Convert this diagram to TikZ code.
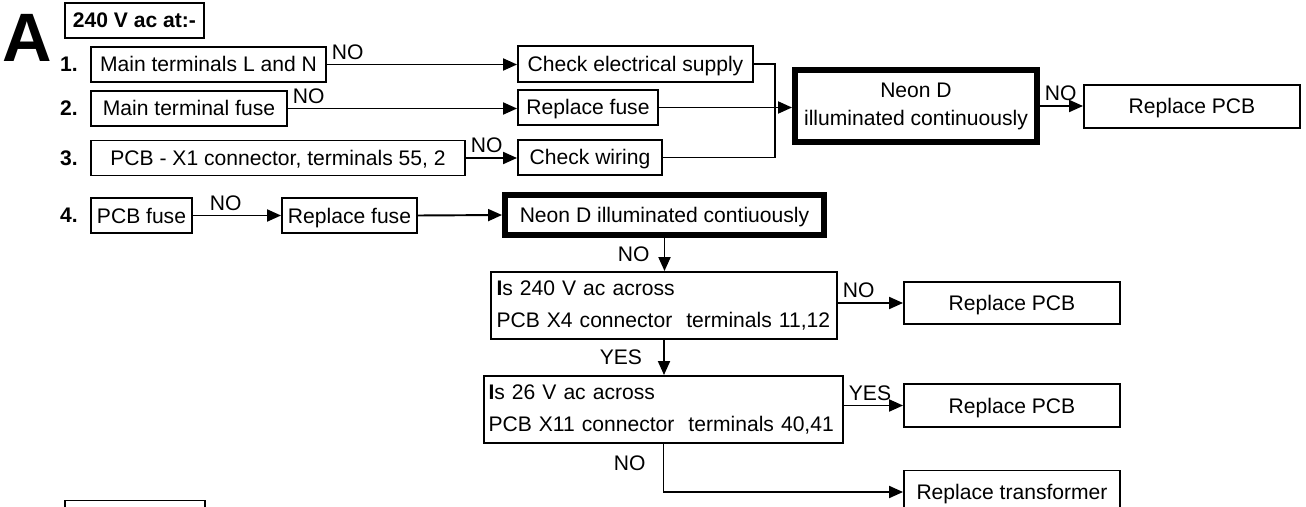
\documentclass[tikz,border=0pt]{standalone}
\usepackage{fontspec}
\setmainfont{Liberation Sans}
\usetikzlibrary{arrows.meta}

\begin{document}
\begin{tikzpicture}[x=0.02cm, y=-0.02cm, line width=1.1pt,
    font=\fontsize{12}{14}\selectfont, >={Triangle[length=0.28cm, width=0.24cm]},
    box/.style={draw, inner sep=0pt, minimum height=0.7cm, text height=0.3cm, text depth=0cm},
    neon/.style={draw, line width=0.12cm, inner sep=0pt, align=center},
    quest/.style={draw, inner ysep=0pt, minimum height=1.34cm, align=left, font=\fontsize{12}{18}\selectfont},
    num/.style={font=\fontsize{12}{14}\selectfont\bfseries, inner sep=0pt},
    ans/.style={inner sep=0.08cm}]

  \useasboundingbox (0,0) rectangle (1306,507);
  \clip (0,0) rectangle (1306,507);

  \node[font=\fontsize{39}{42}\selectfont\bfseries, inner sep=0pt] (secA) at (27,38) {A};
  \node[box, minimum width=2.78cm, font=\fontsize{12}{14}\selectfont\bfseries] (hdr) at (134.5,20.5) {240 V ac at:-};

  % checks 1 to 3
  \node[num] (n1) at (69,64.5) {1.};
  \node[num] (n2) at (69,108.5) {2.};
  \node[num] (n3) at (69,158) {3.};
  \node[box, minimum width=4.70cm] (b1) at (208.5,64.5) {Main terminals L and N};
  \node[box, minimum width=3.92cm] (b2) at (189,108.5) {Main terminal fuse};
  \node[box, minimum width=7.48cm] (b3) at (278,158) {PCB - X1 connector, terminals 55, 2};
  \node[box, minimum width=4.70cm, minimum height=0.72cm] (c1) at (635.5,64) {Check electrical supply};
  \node[box, minimum width=2.80cm] (c2) at (588,107.5) {Replace fuse};
  \node[box, minimum width=2.88cm] (c3) at (590,157.5) {Check wiring};
  \node[neon, minimum width=4.84cm, minimum height=1.44cm, font=\fontsize{12}{16}\selectfont] (neon1) at (916,106) {Neon D\\illuminated continuously};
  \node[box, minimum width=4.32cm, minimum height=0.86cm] (r1) at (1192,106.5) {Replace PCB};

  \draw[->] (b1.east) -- node[ans, at start, above right] {NO} (b1.east -| c1.west);
  \draw[->] (b2.east) -- node[ans, at start, above right] {NO} (b2.east -| c2.west);
  \draw[->] (b3.east) -- node[ans, at start, above right] {NO} (b3.east -| c3.west);
  \coordinate (jn) at (775,107);
  \draw (c1.east) -| (jn) |- (c3.east);
  \draw[->] (c2.east) -- (c2.east -| neon1.west);
  \draw[->] (neon1.east) -- node[ans, at start, above right] {NO} (neon1.east -| r1.west);

  % check 4
  \node[num] (n4) at (69,215.5) {4.};
  \node[box, minimum width=2.02cm] (p4) at (141.5,215.5) {PCB fuse};
  \node[box, minimum width=2.70cm] (f4) at (349.5,215.5) {Replace fuse};
  \node[neon, minimum width=6.38cm, minimum height=0.80cm, text height=0.3cm, text depth=0cm] (neon2) at (664.5,215) {Neon D illuminated contiuously};

  \node[quest, inner xsep=0.11cm, text width=6.70cm] (q1) at (664,305.5) {\textbf{I}s 240 V ac across\\PCB X4 connector~~terminals 11,12};
  \node[box, minimum width=4.32cm, minimum height=0.84cm] (r2) at (1012,303) {Replace PCB};
  \node[quest, inner xsep=0.09cm, text width=7.00cm] (q2) at (663.5,409.5) {\textbf{I}s 26 V ac across\\PCB X11 connector~~terminals 40,41};
  \node[box, minimum width=4.32cm, minimum height=0.86cm] (r3) at (1012,405.5) {Replace PCB};
  \node[box, minimum width=4.32cm, minimum height=0.86cm] (r4) at (1012,492) {Replace transformer};
  \node[box, minimum width=2.80cm, minimum height=0.86cm] (b5) at (135,522) {};

  \draw[->] (p4.east) -- node[ans, at start, above right, xshift=0.24cm] {NO} (f4.west);
  \draw[->] (f4.east) -- (neon2.west);
  \draw[->] (neon2.south) -- node[ans, midway, left=0.2cm] {NO} (neon2.south |- q1.north);
  \draw[->] (q1.east |- r2) -- node[ans, at start, above right] {NO} (r2.west);
  \draw[->] (q1.south) -- node[ans, midway, left=0.34cm] {YES} (q1.south |- q2.north);
  \draw[->] (q2.east |- r3) -- node[ans, at start, above right] {YES} (r3.west);
  \draw[->] (q2.south) |- node[ans, pos=0.2, left=0.26cm] {NO} (r4.west);
\end{tikzpicture}
\end{document}
